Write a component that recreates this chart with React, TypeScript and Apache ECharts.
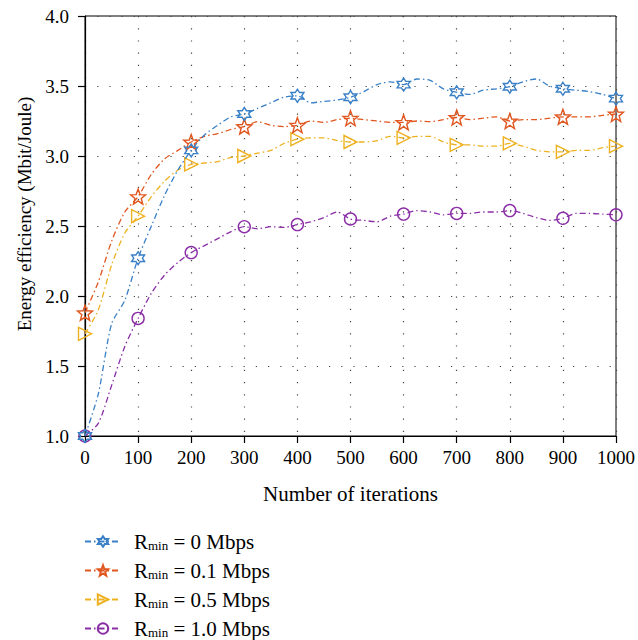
import React, { useEffect, useRef } from "react";
import * as echarts from "echarts";

const iterations = [0,25,50,75,100,125,150,175,200,225,250,275,300,325,350,375,400,425,450,475,500,525,550,575,600,625,650,675,700,725,750,775,800,825,850,875,900,925,950,975,1000];

const ee0 = [1.00,1.30,1.80,1.97,2.27,2.50,2.72,2.90,3.04,3.15,3.22,3.28,3.30,3.34,3.38,3.42,3.43,3.38,3.39,3.40,3.42,3.46,3.51,3.53,3.51,3.55,3.54,3.48,3.455,3.44,3.47,3.48,3.495,3.53,3.55,3.50,3.48,3.47,3.46,3.44,3.41];
const ee01 = [1.88,2.10,2.39,2.60,2.71,2.87,2.98,3.04,3.10,3.14,3.16,3.19,3.21,3.245,3.22,3.21,3.22,3.25,3.24,3.26,3.27,3.26,3.25,3.24,3.24,3.25,3.245,3.26,3.275,3.26,3.27,3.28,3.25,3.26,3.26,3.27,3.28,3.28,3.28,3.29,3.30];
const ee05 = [1.73,1.90,2.22,2.45,2.57,2.71,2.82,2.90,2.94,2.95,2.96,2.99,3.00,3.02,3.04,3.09,3.12,3.13,3.13,3.11,3.10,3.10,3.11,3.14,3.13,3.14,3.14,3.10,3.08,3.08,3.07,3.07,3.09,3.07,3.04,3.03,3.03,3.04,3.04,3.06,3.07];
const ee10 = [1.00,1.09,1.36,1.64,1.84,2.02,2.15,2.24,2.31,2.36,2.41,2.46,2.495,2.48,2.495,2.49,2.51,2.53,2.56,2.60,2.55,2.54,2.53,2.57,2.585,2.61,2.60,2.58,2.59,2.59,2.60,2.60,2.61,2.59,2.56,2.54,2.555,2.59,2.59,2.585,2.58];

const rates = ["0", "0.1", "0.5", "1.0"];
const seriesValues = [ee0, ee01, ee05, ee10];
const colors = ["#3a80c6", "#e0561e", "#edb120", "#8a2ea6"];

function starPath(n: number, inner: number) {
  const pts: string[] = [];
  for (let i = 0; i < 2 * n; i++) {
    const a = -Math.PI / 2 + (i * Math.PI) / n;
    const r = i % 2 === 0 ? 10 : 10 * inner;
    pts.push(`${(10 + r * Math.cos(a)).toFixed(3)},${(10 + r * Math.sin(a)).toFixed(3)}`);
  }
  return "path://M" + pts.join(" L") + " Z";
}

const symbols = [
  starPath(6, 1 / Math.sqrt(3)),
  starPath(5, 0.42),
  "path://M0,0 L17,10 L0,20 Z",
  "circle",
];
const symbolSizes = [13, 15, 13, 12];

const FONT = "Liberation Serif";

export default function App() {
  const ref = useRef<HTMLDivElement>(null);
  useEffect(() => {
    if (!ref.current) return;
    const chart = echarts.init(ref.current, null, { renderer: "svg" });
    const series = seriesValues.map((vals, si) => ({
      type: "line",
      name: `Rmin = ${rates[si]} Mbps`,
      data: iterations.map((x, i) =>
        x % 100 === 0 ? { value: [x, vals[i]] } : { value: [x, vals[i]], symbol: "none" }
      ),
      symbol: symbols[si],
      symbolSize: symbolSizes[si],
      showAllSymbol: true,
      smooth: 0.25,
      lineStyle: { color: colors[si], width: 1.3, type: [6, 3, 1.5, 3] },
      itemStyle: { color: "rgba(255,255,255,0)", borderColor: colors[si], borderWidth: 1.4 },
      emphasis: { disabled: true },
      z: 10 - si,
    }));
    chart.setOption({
      animation: false,
      backgroundColor: "#fff",
      textStyle: { fontFamily: FONT },
      grid: { left: 85, right: 21, top: 16, bottom: 204, show: true, borderColor: "#000", borderWidth: 1 },
      xAxis: {
        type: "value",
        min: 0,
        max: 1000,
        interval: 100,
        name: "Number of iterations",
        nameLocation: "middle",
        nameGap: 47,
        nameTextStyle: { fontSize: 21, color: "#000", fontFamily: FONT },
        axisLine: { lineStyle: { color: "#000", width: 1.2 } },
        axisTick: { inside: false, length: 7, lineStyle: { color: "#000", width: 1.2 } },
        axisLabel: { fontSize: 19, color: "#000", margin: 12, fontFamily: FONT, formatter: (v: number) => String(v) },
        splitLine: { show: true, lineStyle: { color: "#444", width: 1.2, type: [1.2, 11] } },
      },
      yAxis: {
        type: "value",
        min: 1,
        max: 4,
        interval: 0.5,
        name: "Energy efficiency (Mbit/Joule)",
        nameLocation: "middle",
        nameGap: 48,
        nameTextStyle: { fontSize: 19, color: "#000", fontFamily: FONT, padding: [0, 0, 0, 24] },
        axisLine: { show: true, lineStyle: { color: "#000", width: 1.2 } },
        axisTick: { show: true, inside: false, length: 7, lineStyle: { color: "#000", width: 1.2 } },
        axisLabel: { fontSize: 19, color: "#000", margin: 16, fontFamily: FONT, formatter: (v: number) => v.toFixed(1) },
        splitLine: { show: true, lineStyle: { color: "#444", width: 1.2, type: [1.2, 11] } },
      },
      legend: {
        orient: "vertical",
        left: 84,
        top: 531,
        height: 140,
        padding: 0,
        itemGap: 8,
        itemWidth: 36,
        itemHeight: 13,
        selectedMode: false,
        formatter: (name: string) => `{g|}{a|R}{b|min}{a|${name.slice(4)}}`,
        textStyle: {
          color: "#000",
          fontFamily: FONT,
          rich: {
            g: { width: 8 },
            a: { fontSize: 21, color: "#000", fontFamily: FONT },
            b: { fontSize: 13, color: "#000", fontFamily: FONT, padding: [8, 0, 0, 0] },
          },
        },
      },
      series,
    });
    return () => chart.dispose();
  }, []);
  return <div ref={ref} style={{ position: "absolute", left: 0, top: 0, width: 638, height: 640 }} />;
}
